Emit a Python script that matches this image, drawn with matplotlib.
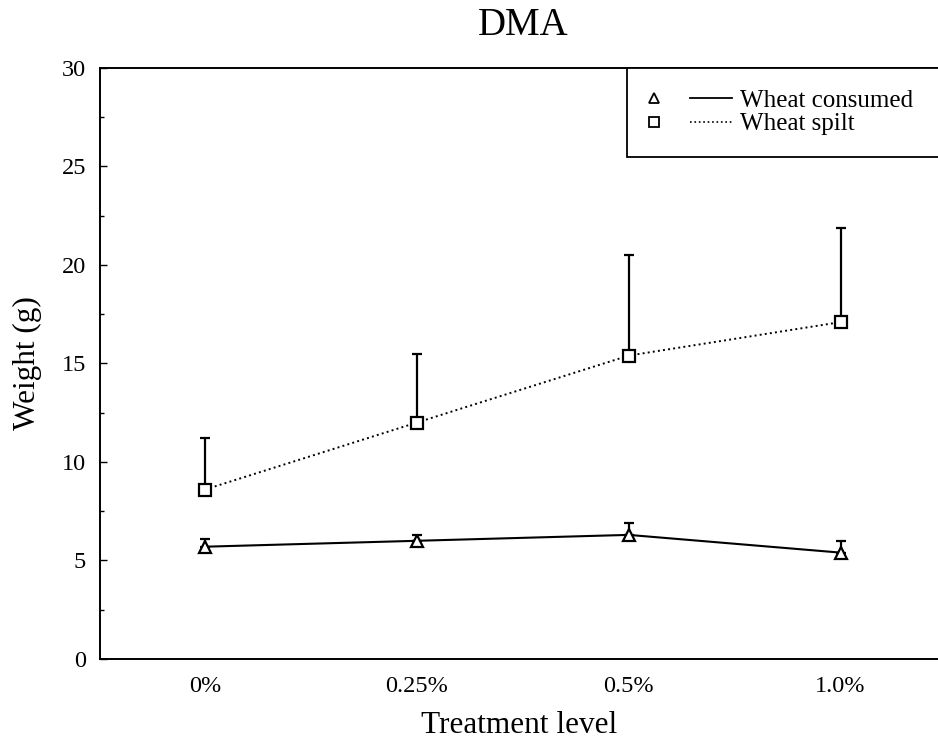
import numpy as np
import matplotlib
matplotlib.use("Agg")
import matplotlib.pyplot as plt
from matplotlib.lines import Line2D
from matplotlib.legend_handler import HandlerBase

plt.rcParams['font.family'] = ['Liberation Serif', 'DejaVu Serif']

# Data
levels = ["0%", "0.25%", "0.5%", "1.0%"]
consumed = [5.7, 6.0, 6.3, 5.4]
consumed_err = [0.4, 0.3, 0.6, 0.6]
spilt = [8.6, 12.0, 15.4, 17.1]
spilt_err = [2.6, 3.5, 5.1, 4.8]

x = np.arange(len(levels))


# legend entry: marker on the left, then a short line segment
class MarkerLineHandler(HandlerBase):
    def create_artists(self, legend, orig_handle, xdescent, ydescent,
                       width, height, fontsize, trans):
        y = height / 2 - ydescent
        line = Line2D([-xdescent + 0.5 * width, -xdescent + width], [y, y],
                      color='black', linestyle=orig_handle.get_linestyle(),
                      linewidth=orig_handle.get_linewidth())
        mk = Line2D([-xdescent + 0.07 * width], [y], color='black', linestyle='none',
                    marker=orig_handle.get_marker(), markersize=6.5,
                    markerfacecolor='white', markeredgewidth=1.3)
        line.set_transform(trans)
        mk.set_transform(trans)
        return [line, mk]


fig = plt.figure(figsize=(9.38, 7.47), dpi=100)
ax = fig.add_axes([0.1066, 0.1178, 0.8934, 0.7912])

ax.errorbar(x, consumed, yerr=[np.zeros(len(x)), consumed_err], color='black',
            linestyle='-', linewidth=1.5, marker='^', markersize=8,
            markerfacecolor='white', markeredgewidth=1.6, capsize=3.5,
            elinewidth=1.6, capthick=1.6)
ax.errorbar(x, spilt, yerr=[np.zeros(len(x)), spilt_err], color='black',
            linestyle=':', linewidth=1.4, marker='s', markersize=8,
            markerfacecolor='white', markeredgewidth=1.6, capsize=3.5,
            elinewidth=1.6, capthick=1.6)

ax.set_xlim(-0.495, 3.46)
ax.set_ylim(0, 30)
ax.set_xticks(x)
ax.set_xticklabels(levels)
ax.set_yticks(np.arange(0, 31, 5))
ax.set_yticks(np.arange(0, 30, 2.5), minor=True)
ax.tick_params(axis='x', length=0, labelsize=17.5, pad=12)
ax.tick_params(axis='y', which='major', direction='in', length=5, width=1,
               labelsize=17.5, pad=10)
ax.tick_params(axis='y', which='minor', direction='in', length=3, width=1)
ax.spines['right'].set_visible(False)
for s in ['left', 'top', 'bottom']:
    ax.spines[s].set_linewidth(1.4)

ax.set_xlabel("Treatment level", fontsize=22.5, labelpad=10)
ax.set_ylabel("Weight (g)", fontsize=22.5, labelpad=14)
fig.text(0.558, 0.966, "DMA", ha='center', va='center', fontsize=28)

h1 = Line2D([], [], color='black', marker='^', linestyle='-', linewidth=1.3)
h2 = Line2D([], [], color='black', marker='s', linestyle=':', linewidth=1.2)
leg = ax.legend([h1, h2], ["Wheat consumed", "Wheat spilt"],
                handler_map={Line2D: MarkerLineHandler()},
                loc='upper left', bbox_to_anchor=(0.629, 0.5, 0.42, 0.5),
                mode='expand', borderaxespad=0,
                fontsize=18, handlelength=3.35, fancybox=False, edgecolor='black',
                framealpha=1, borderpad=0.85, labelspacing=0.05, handletextpad=0.33)
leg.get_frame().set_linewidth(1.3)

plt.savefig("out.png", dpi=100)
